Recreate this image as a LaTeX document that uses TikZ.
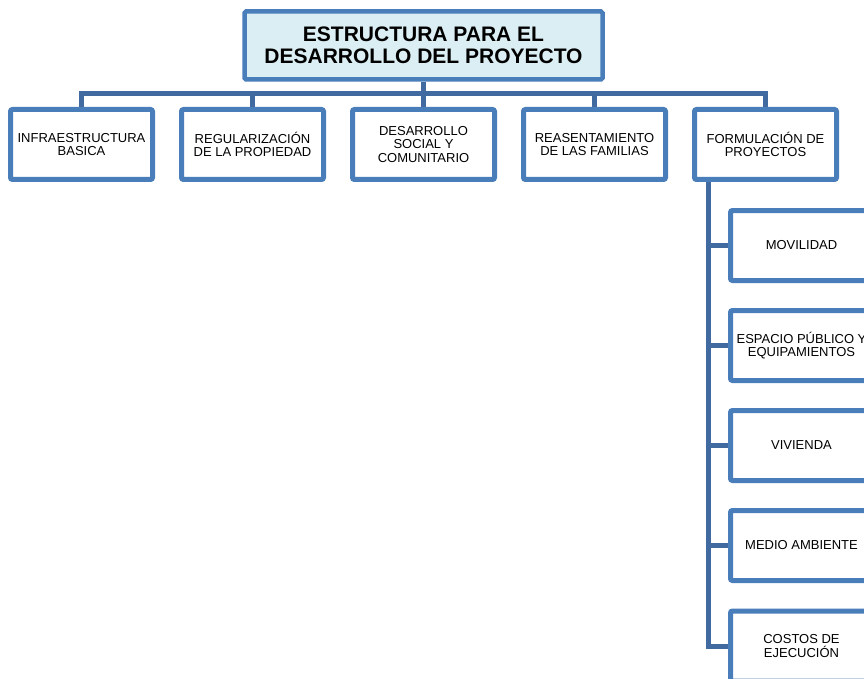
\documentclass[tikz,border=0pt]{standalone}
\usepackage{fontspec}
\setmainfont{Liberation Sans}
\usetikzlibrary{backgrounds}
\definecolor{boxline}{RGB}{74,126,187}
\definecolor{connline}{RGB}{65,106,160}
\definecolor{titlefill}{RGB}{218,238,243}
\tikzset{
  titlebox/.style={draw=boxline, line width=4.5pt, fill=titlefill, rounded corners=1.5pt,
    minimum width=358pt, minimum height=68pt, inner sep=0pt, align=center,
    font=\fontsize{21}{22}\selectfont\bfseries},
  unitbox/.style={draw=boxline, line width=5pt, fill=white, rounded corners=2pt,
    minimum width=142pt, minimum height=70pt, inner sep=0pt, align=center,
    font=\fontsize{13}{13.3}\selectfont},
  conn/.style={draw=connline, line width=5pt}
}
\begin{document}
\begin{tikzpicture}[x=1pt,y=-1pt]
\clip (0,0) rectangle (864,679);
\node[titlebox] (t) at (423.5,45.5) {ESTRUCTURA PARA EL\\DESARROLLO DEL PROYECTO};
\node[unitbox] (a) at (81.5,144.5) {INFRAESTRUCTURA\\BASICA};
\node[unitbox] (b) at (252.5,144.5) {REGULARIZACIÓN\\DE LA PROPIEDAD};
\node[unitbox] (c) at (423.5,144.5) {DESARROLLO\\SOCIAL Y\\COMUNITARIO};
\node[unitbox] (d) at (594.5,144.5) {REASENTAMIENTO\\DE LAS FAMILIAS};
\node[unitbox] (e) at (765.5,144.5) {FORMULACIÓN DE\\PROYECTOS};
\node[unitbox] (m1) at (801.5,245.5) {MOVILIDAD};
\node[unitbox] (m2) at (801.5,345.5) {ESPACIO PÚBLICO Y\\EQUIPAMIENTOS};
\node[unitbox] (m3) at (801.5,445.5) {VIVIENDA};
\node[unitbox] (m4) at (801.5,545.5) {MEDIO AMBIENTE};
\node[unitbox] (m5) at (801.5,646) {COSTOS DE\\EJECUCIÓN};
\coordinate (bus) at (0,94);
\coordinate (sp) at (708,0);
\begin{scope}[on background layer]
\draw[conn] (t.south) -- (t.south |- bus);
\draw[conn] (a.north) -- (a.north |- bus) -- (e.north |- bus) -- (e.north);
\draw[conn] (b.north) -- (b.north |- bus);
\draw[conn] (c.north) -- (c.north |- bus);
\draw[conn] (d.north) -- (d.north |- bus);
\draw[conn] (e.south -| sp) |- (m5.west);
\draw[conn] (m1.west -| sp) -- (m1.west);
\draw[conn] (m2.west -| sp) -- (m2.west);
\draw[conn] (m3.west -| sp) -- (m3.west);
\draw[conn] (m4.west -| sp) -- (m4.west);
\end{scope}
\end{tikzpicture}
\end{document}
